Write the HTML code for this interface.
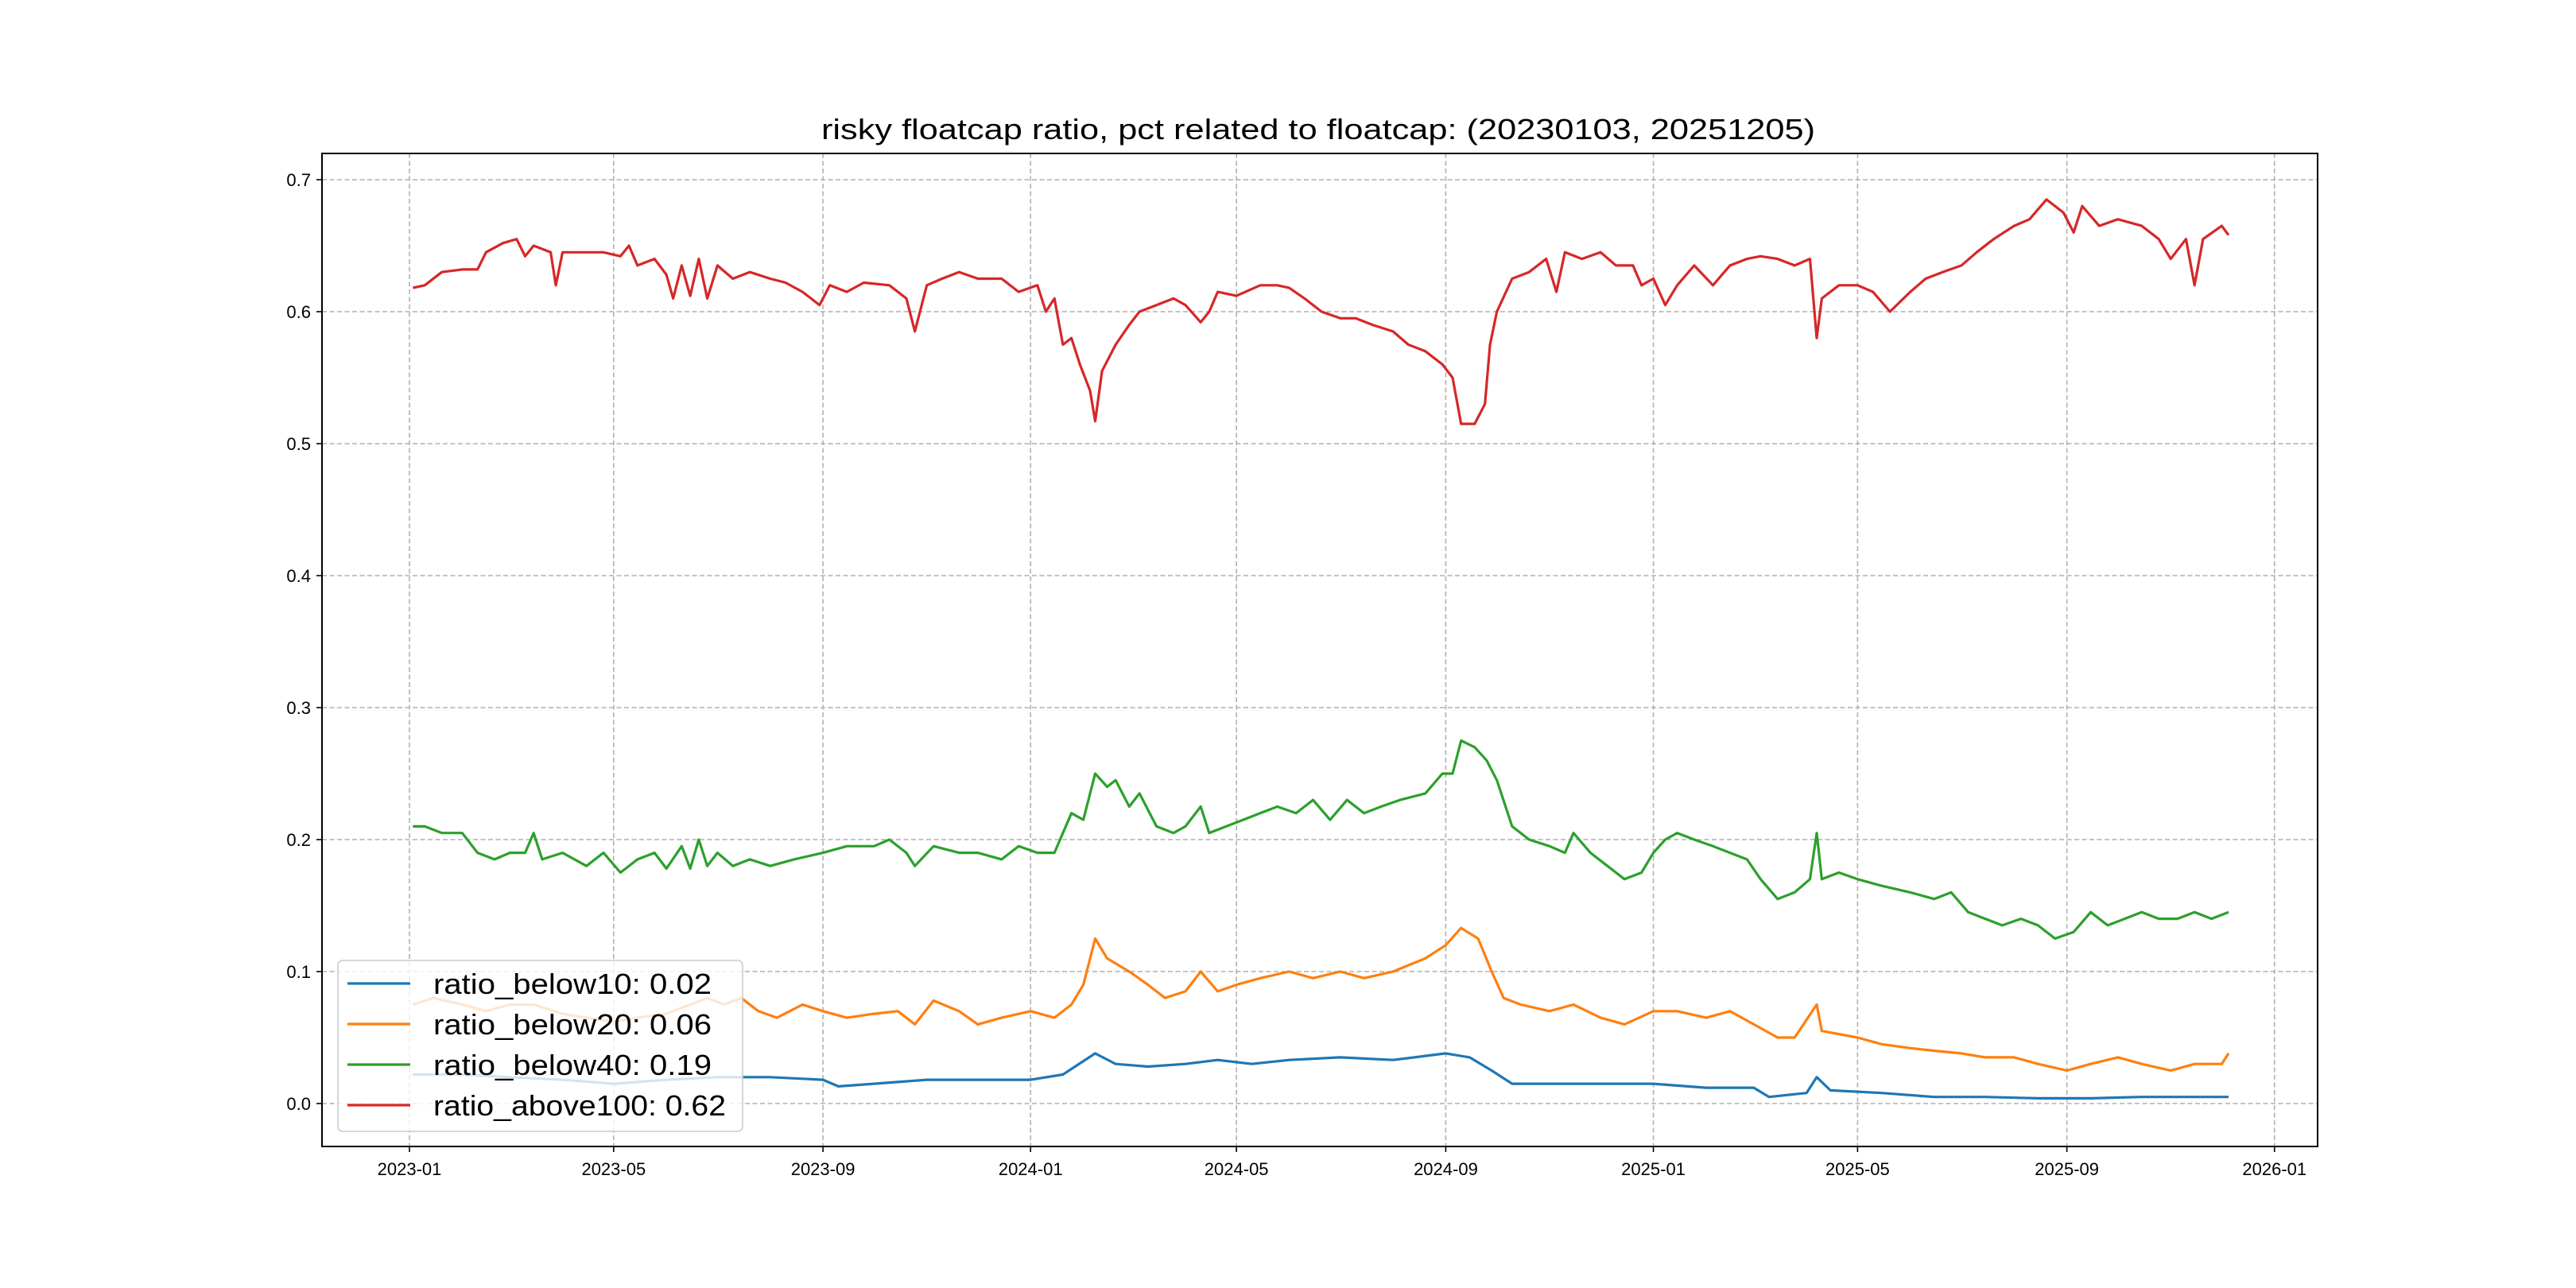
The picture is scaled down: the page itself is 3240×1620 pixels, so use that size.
<!DOCTYPE html>
<html><head><meta charset="utf-8"><style>html,body{margin:0;padding:0;background:#fff}svg{display:block}</style></head>
<body>
<svg id="chart" width="3240" height="1620" xmlns="http://www.w3.org/2000/svg" font-family="'Liberation Sans','WenQuanYi Zen Hei',sans-serif">
<rect width="3240" height="1620" fill="#fff"/>
<text x="1658" y="175" text-anchor="middle" font-size="36" textLength="1250" lengthAdjust="spacingAndGlyphs">risky floatcap ratio, pct related to floatcap: (20230103, 20251205)</text>
<g id="grid"></g><g id="axes"></g>
<clipPath id="clip"><rect x="405" y="193" width="2510" height="1249"/></clipPath>
<g id="series" clip-path="url(#clip)"></g>
<g id="legend"></g>
</svg>
<script>
const yTicks=[0,0.1,0.2,0.3,0.4,0.5,0.6,0.7];
const yTickLabels=["0.0","0.1","0.2","0.3","0.4","0.5","0.6","0.7"];
const xTicks=["2023-01-01","2023-05-01","2023-09-01","2024-01-01","2024-05-01","2024-09-01","2025-01-01","2025-05-01","2025-09-01","2026-01-01"];
const xTickLabels=["2023-01","2023-05","2023-09","2024-01","2024-05","2024-09","2025-01","2025-05","2025-09","2026-01"];
const seriesNames=["ratio_below10: 0.02","ratio_below20: 0.06","ratio_below40: 0.19","ratio_above100: 0.62"];
const seriesColors=["#1f77b4","#ff7f0e","#2ca02c","#d62728"];
const redDates=["2023-01-03","2023-01-10","2023-01-20","2023-02-01","2023-02-10","2023-02-15","2023-02-25","2023-03-05","2023-03-10","2023-03-15","2023-03-25","2023-03-28","2023-04-01","2023-04-15","2023-04-25","2023-05-05","2023-05-10","2023-05-15","2023-05-25","2023-06-01","2023-06-05","2023-06-10","2023-06-15","2023-06-20","2023-06-25","2023-07-01","2023-07-10","2023-07-20","2023-08-01","2023-08-10","2023-08-20","2023-08-30","2023-09-05","2023-09-15","2023-09-25","2023-10-10","2023-10-20","2023-10-25","2023-11-01","2023-11-10","2023-11-20","2023-12-01","2023-12-15","2023-12-25","2024-01-05","2024-01-10","2024-01-15","2024-01-20","2024-01-25","2024-01-30","2024-02-05","2024-02-08","2024-02-12","2024-02-20","2024-02-28","2024-03-05","2024-03-15","2024-03-25","2024-04-01","2024-04-10","2024-04-15","2024-04-20","2024-05-01","2024-05-15","2024-05-25","2024-06-01","2024-06-10","2024-06-20","2024-07-01","2024-07-10","2024-07-20","2024-08-01","2024-08-10","2024-08-20","2024-08-30","2024-09-05","2024-09-10","2024-09-18","2024-09-24","2024-09-27","2024-10-01","2024-10-10","2024-10-20","2024-10-30","2024-11-05","2024-11-10","2024-11-20","2024-12-01","2024-12-10","2024-12-20","2024-12-25","2025-01-01","2025-01-08","2025-01-15","2025-01-25","2025-02-05","2025-02-15","2025-02-25","2025-03-05","2025-03-15","2025-03-25","2025-04-03","2025-04-07","2025-04-10","2025-04-20","2025-05-01","2025-05-10","2025-05-20","2025-06-01","2025-06-10","2025-06-20","2025-07-01","2025-07-10","2025-07-20","2025-08-01","2025-08-10","2025-08-20","2025-08-30","2025-09-05","2025-09-10","2025-09-20","2025-10-01","2025-10-15","2025-10-25","2025-11-01","2025-11-10","2025-11-15","2025-11-20","2025-12-01","2025-12-05"];
const redVals=[0.618,0.62,0.63,0.632,0.632,0.645,0.652,0.655,0.642,0.65,0.645,0.62,0.645,0.645,0.645,0.642,0.65,0.635,0.64,0.628,0.61,0.635,0.612,0.64,0.61,0.635,0.625,0.63,0.625,0.622,0.615,0.605,0.62,0.615,0.622,0.62,0.61,0.585,0.62,0.625,0.63,0.625,0.625,0.615,0.62,0.6,0.61,0.575,0.58,0.56,0.54,0.517,0.555,0.575,0.59,0.6,0.605,0.61,0.605,0.592,0.6,0.615,0.612,0.62,0.62,0.618,0.61,0.6,0.595,0.595,0.59,0.585,0.575,0.57,0.56,0.55,0.515,0.515,0.53,0.575,0.6,0.625,0.63,0.64,0.615,0.645,0.64,0.645,0.635,0.635,0.62,0.625,0.605,0.62,0.635,0.62,0.635,0.64,0.642,0.64,0.635,0.64,0.58,0.61,0.62,0.62,0.615,0.6,0.615,0.625,0.63,0.635,0.645,0.655,0.665,0.67,0.685,0.675,0.66,0.68,0.665,0.67,0.665,0.655,0.64,0.655,0.62,0.655,0.665,0.658];
const greenDates=["2023-01-03","2023-01-10","2023-01-20","2023-02-01","2023-02-10","2023-02-20","2023-03-01","2023-03-10","2023-03-15","2023-03-20","2023-04-01","2023-04-15","2023-04-25","2023-05-05","2023-05-15","2023-05-25","2023-06-01","2023-06-10","2023-06-15","2023-06-20","2023-06-25","2023-07-01","2023-07-10","2023-07-20","2023-08-01","2023-08-15","2023-09-01","2023-09-15","2023-10-01","2023-10-10","2023-10-20","2023-10-25","2023-11-05","2023-11-20","2023-12-01","2023-12-15","2023-12-25","2024-01-05","2024-01-15","2024-01-20","2024-01-25","2024-02-01","2024-02-08","2024-02-15","2024-02-20","2024-02-28","2024-03-05","2024-03-15","2024-03-25","2024-04-01","2024-04-10","2024-04-15","2024-04-25","2024-05-05","2024-05-15","2024-05-25","2024-06-05","2024-06-15","2024-06-25","2024-07-05","2024-07-15","2024-07-25","2024-08-05","2024-08-20","2024-08-30","2024-09-05","2024-09-10","2024-09-18","2024-09-25","2024-10-01","2024-10-10","2024-10-20","2024-11-01","2024-11-10","2024-11-15","2024-11-25","2024-12-05","2024-12-15","2024-12-25","2025-01-01","2025-01-08","2025-01-15","2025-01-25","2025-02-05","2025-02-15","2025-02-25","2025-03-05","2025-03-15","2025-03-25","2025-04-03","2025-04-07","2025-04-10","2025-04-20","2025-05-01","2025-05-15","2025-06-01","2025-06-15","2025-06-25","2025-07-05","2025-07-15","2025-07-25","2025-08-05","2025-08-15","2025-08-25","2025-09-05","2025-09-15","2025-09-25","2025-10-05","2025-10-15","2025-10-25","2025-11-05","2025-11-15","2025-11-25","2025-12-05"];
const greenVals=[0.21,0.21,0.205,0.205,0.19,0.185,0.19,0.19,0.205,0.185,0.19,0.18,0.19,0.175,0.185,0.19,0.178,0.195,0.178,0.2,0.18,0.19,0.18,0.185,0.18,0.185,0.19,0.195,0.195,0.2,0.19,0.18,0.195,0.19,0.19,0.185,0.195,0.19,0.19,0.205,0.22,0.215,0.25,0.24,0.245,0.225,0.235,0.21,0.205,0.21,0.225,0.205,0.21,0.215,0.22,0.225,0.22,0.23,0.215,0.23,0.22,0.225,0.23,0.235,0.25,0.25,0.275,0.27,0.26,0.245,0.21,0.2,0.195,0.19,0.205,0.19,0.18,0.17,0.175,0.19,0.2,0.205,0.2,0.195,0.19,0.185,0.17,0.155,0.16,0.17,0.205,0.17,0.175,0.17,0.165,0.16,0.155,0.16,0.145,0.14,0.135,0.14,0.135,0.125,0.13,0.145,0.135,0.14,0.145,0.14,0.14,0.145,0.14,0.145];
const orangeDates=["2023-01-03","2023-01-15","2023-02-01","2023-02-15","2023-03-01","2023-03-15","2023-04-01","2023-04-15","2023-05-01","2023-05-15","2023-06-01","2023-06-15","2023-06-25","2023-07-05","2023-07-15","2023-07-25","2023-08-05","2023-08-20","2023-09-01","2023-09-15","2023-10-01","2023-10-15","2023-10-25","2023-11-05","2023-11-20","2023-12-01","2023-12-15","2024-01-01","2024-01-15","2024-01-25","2024-02-01","2024-02-08","2024-02-15","2024-02-28","2024-03-10","2024-03-20","2024-04-01","2024-04-10","2024-04-20","2024-05-01","2024-05-15","2024-06-01","2024-06-15","2024-07-01","2024-07-15","2024-08-01","2024-08-20","2024-09-01","2024-09-10","2024-09-20","2024-09-28","2024-10-05","2024-10-15","2024-11-01","2024-11-15","2024-12-01","2024-12-15","2025-01-01","2025-01-15","2025-02-01","2025-02-15","2025-03-01","2025-03-15","2025-03-25","2025-04-07","2025-04-10","2025-05-01","2025-05-15","2025-06-01","2025-06-15","2025-07-01","2025-07-15","2025-08-01","2025-08-15","2025-09-01","2025-09-15","2025-10-01","2025-10-15","2025-11-01","2025-11-15","2025-12-01","2025-12-05"];
const orangeVals=[0.075,0.08,0.075,0.07,0.075,0.075,0.068,0.065,0.062,0.065,0.068,0.075,0.08,0.075,0.08,0.07,0.065,0.075,0.07,0.065,0.068,0.07,0.06,0.078,0.07,0.06,0.065,0.07,0.065,0.075,0.09,0.125,0.11,0.1,0.09,0.08,0.085,0.1,0.085,0.09,0.095,0.1,0.095,0.1,0.095,0.1,0.11,0.12,0.133,0.125,0.1,0.08,0.075,0.07,0.075,0.065,0.06,0.07,0.07,0.065,0.07,0.06,0.05,0.05,0.075,0.055,0.05,0.045,0.042,0.04,0.038,0.035,0.035,0.03,0.025,0.03,0.035,0.03,0.025,0.03,0.03,0.038];
const blueDates=["2023-01-03","2023-02-01","2023-03-01","2023-04-01","2023-05-01","2023-06-01","2023-07-01","2023-08-01","2023-09-01","2023-09-10","2023-10-01","2023-11-01","2023-12-01","2024-01-01","2024-01-20","2024-02-08","2024-02-20","2024-03-10","2024-04-01","2024-04-20","2024-05-10","2024-06-01","2024-07-01","2024-08-01","2024-09-01","2024-09-15","2024-09-28","2024-10-10","2024-11-01","2024-12-01","2025-01-01","2025-02-01","2025-03-01","2025-03-10","2025-04-01","2025-04-07","2025-04-15","2025-05-15","2025-06-15","2025-07-15","2025-08-15","2025-09-15","2025-10-15","2025-11-15","2025-12-05"];
const blueVals=[0.022,0.022,0.02,0.018,0.015,0.018,0.02,0.02,0.018,0.013,0.015,0.018,0.018,0.018,0.022,0.038,0.03,0.028,0.03,0.033,0.03,0.033,0.035,0.033,0.038,0.035,0.025,0.015,0.015,0.015,0.015,0.012,0.012,0.005,0.008,0.02,0.01,0.008,0.005,0.005,0.004,0.004,0.005,0.005,0.005];

const NS="http://www.w3.org/2000/svg";
const X0=515, PXDAY=2.1403, Y0=1388, PXUNIT=1660, L=405,R=2915,T=193,B=1442;
const base=Date.UTC(2023,0,1);
function xs(d){const p=d.split('-').map(Number);return X0+(Date.UTC(p[0],p[1]-1,p[2])-base)/86400000*PXDAY;}
function ys(v){return Y0-v*PXUNIT;}
function mk(tag,attrs,parent){const e=document.createElementNS(NS,tag);for(const k in attrs)e.setAttribute(k,attrs[k]);parent.appendChild(e);return e;}
const grid=document.getElementById('grid'),axes=document.getElementById('axes'),ser=document.getElementById('series'),leg=document.getElementById('legend');
yTicks.forEach((v,i)=>{const y=ys(v);
 const g=mk('line',{x1:L,x2:R,y1:y,y2:y,stroke:'#b0b0b0','stroke-width':1.6,'stroke-dasharray':'6,3.5'},grid);
 
 
 mk('line',{x1:L-7,x2:L,y1:y,y2:y,stroke:'#000','stroke-width':1.6},axes);
 const t=mk('text',{x:L-14,y:y+8,'text-anchor':'end','font-size':22},axes);t.textContent=yTickLabels[i];
 
 });
xTicks.forEach((d,i)=>{const x=xs(d);
 const g=mk('line',{x1:x,x2:x,y1:T,y2:B,stroke:'#b0b0b0','stroke-width':1.6,'stroke-dasharray':'6,3.5'},grid);
 
 
 mk('line',{x1:x,x2:x,y1:B,y2:B+7,stroke:'#000','stroke-width':1.6},axes);
 const t=mk('text',{x:x,y:B+36,'text-anchor':'middle','font-size':22},axes);t.textContent=xTickLabels[i];
 
 });
const sp=mk('rect',{x:L,y:T,width:R-L,height:B-T,fill:'none',stroke:'#000','stroke-width':2},axes);


const allD=[blueDates,orangeDates,greenDates,redDates],allV=[blueVals,orangeVals,greenVals,redVals];
const snames=['series-ratio-below10','series-ratio-below20','series-ratio-below40','series-ratio-above100'];
allD.forEach((ds,k)=>{const pts=ds.map((d,i)=>xs(d).toFixed(1)+','+ys(allV[k][i]).toFixed(1)).join(' ');
 const p=mk('polyline',{points:pts,fill:'none',stroke:seriesColors[k],'stroke-width':3.2,'stroke-linejoin':'round'},ser);
 
 });
const lb=mk('rect',{x:425,y:1208,width:509,height:215,rx:6,fill:'#fff','fill-opacity':0.8,stroke:'#ccc','stroke-width':1.6},leg);


seriesNames.forEach((n,k)=>{const y=1237+k*51;
 mk('line',{x1:437,x2:516,y1:y,y2:y,stroke:seriesColors[k],'stroke-width':3.2},leg);
 const t=mk('text',{x:545,y:y+13,'font-size':36,textLength:(n.length*18.4).toFixed(0),lengthAdjust:'spacingAndGlyphs'},leg);t.textContent=n;
 
 });
</script>
</body></html>
